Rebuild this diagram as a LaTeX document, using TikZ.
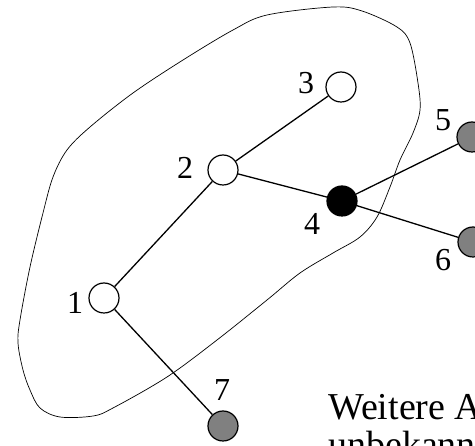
\documentclass[tikz,border=0pt]{standalone}
\usepackage{fontspec}
\setmainfont{Liberation Serif}
\tikzset{
  vertex/.style={circle,draw,line width=1.2pt,minimum size=30pt,inner sep=0pt},
  known/.style={vertex,fill=white},
  current/.style={vertex,fill=black},
  outside/.style={vertex,fill=black!50},
  num/.style={font=\fontsize{32}{32}\selectfont,inner sep=0pt},
  edge/.style={line width=1.3pt}
}
\begin{document}
\begin{tikzpicture}[x=1pt,y=-1pt]
    \clip (0,0) rectangle (475,446);
    % region already explored
    \draw[line width=0.7pt] plot[smooth cycle,tension=0.55] coordinates {
      (267,15) (333,7) (362,11) (397,27) (410,43) (418,83) (420,110)
      (413,133) (400,160) (390,187) (377,217) (360,237) (333,253)
      (300,273) (267,300) (217,340) (167,377) (113,408) (93,416)
      (60,417) (40,408) (30,390) (23,370) (18,343) (20,320) (30,267)
      (43,213) (53,177) (67,150) (90,127) (133,93) (183,60) (233,30)};
    \node[known]   (v1) at (104,298) {};
    \node[known]   (v2) at (223,170) {};
    \node[known]   (v3) at (341,87) {};
    \node[current] (v4) at (342,201) {};
    \node[outside] (v5) at (472,137) {};
    \node[outside] (v6) at (473,242) {};
    \node[outside] (v7) at (223,426) {};
    \draw[edge] (v1) -- (v2);
    \draw[edge] (v2) -- (v3);
    \draw[edge] (v2) -- (v4);
    \draw[edge] (v4) -- (v5);
    \draw[edge] (v4) -- (v6);
    \draw[edge] (v1) -- (v7);
    \node[num] (l1) at (75,303) {1};
    \node[num] (l2) at (185,168) {2};
    \node[num] (l3) at (306,83) {3};
    \node[num] (l4) at (312,224) {4};
    \node[num] (l5) at (443,120) {5};
    \node[num] (l6) at (443,260) {6};
    \node[num] (l7) at (222,390) {7};
    \node[anchor=base west,inner sep=0pt,font=\fontsize{38}{40}\selectfont]
      (more) at (328,420) {Weitere Ausdehnung};
    \node[anchor=base west,inner sep=0pt,font=\fontsize{38}{40}\selectfont]
      (unknown) at (328,458) {unbekannt};
\end{tikzpicture}
\end{document}
